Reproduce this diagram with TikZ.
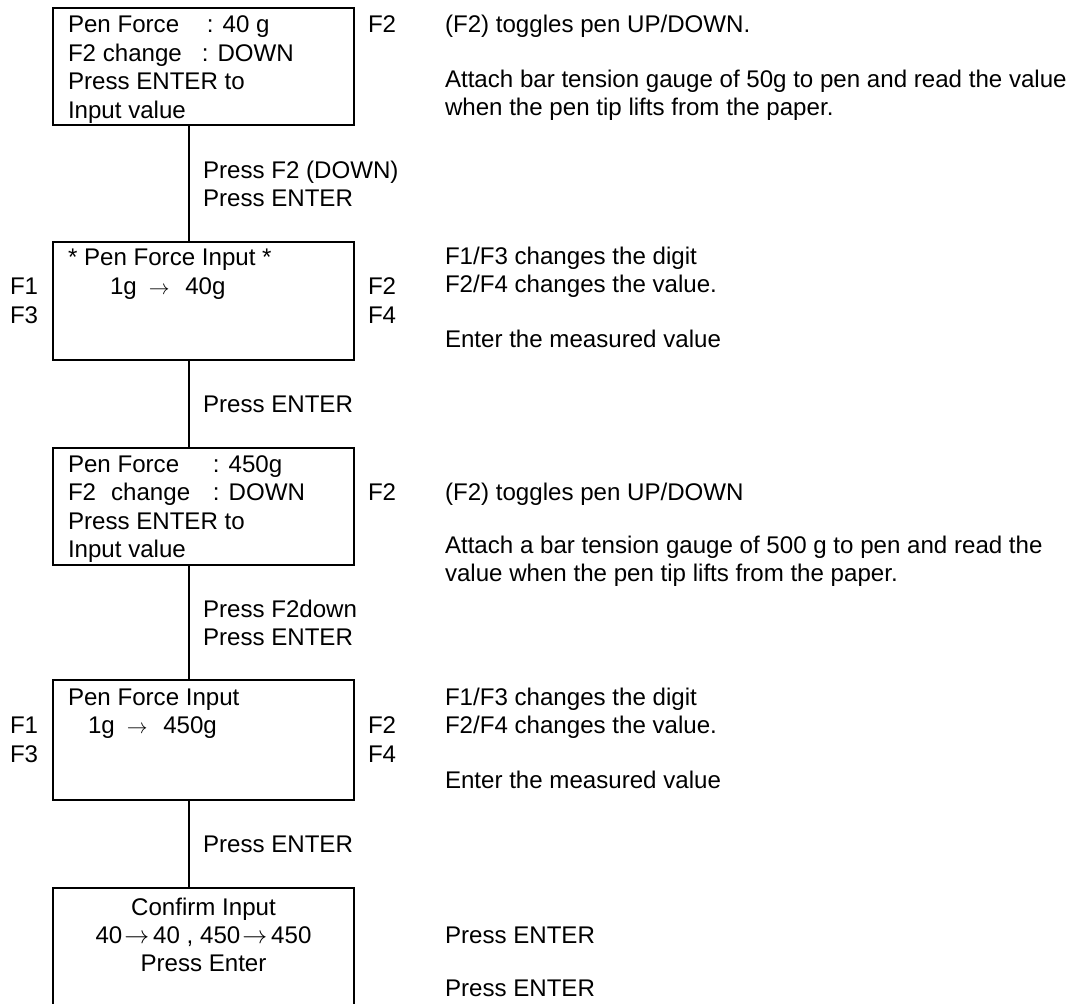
\documentclass[tikz,border=0pt]{standalone}
\usepackage{fontspec}
\setmainfont{Liberation Sans}
\begin{document}
\begin{tikzpicture}[x=1pt,y=-1pt,
  every node/.style={font=\fontsize{24.1}{28}\selectfont},
  txt/.style={anchor=base west,inner sep=0pt,outer sep=0pt},
  ctr/.style={anchor=base,inner sep=0pt,outer sep=0pt},
  screen/.style={draw,line width=1.8pt,rectangle,anchor=north west,minimum width=301pt,inner sep=0pt,outer sep=0pt},
  conn/.style={line width=1.8pt}]
\useasboundingbox (0,0) rectangle (1077,1004);
\newcommand{\sarr}{{\fontsize{21}{21}\selectfont$\rightarrow$}}
\newcommand{\barr}{\hspace{2pt}{\fontsize{28}{28}\selectfont$\rightarrow$}\hspace{4pt}}
\coordinate (ln) at (189,0);

% ---------- box 1
\node[screen,minimum height=117pt] (b1) at (53,8) {};
\node[txt] (b1l1) at (68,32) {\makebox[139pt][l]{Pen Force}: 40 g};
\node[txt] (b1l2) at (68,61) {\makebox[134pt][l]{F2 change}: DOWN};
\node[txt] (b1l3) at (68,89) {Press ENTER to};
\node[txt] (b1l4) at (68,118) {Input value};
\node[txt] (b1f2) at (368,32) {F2};
\node[txt] (r1a) at (445,32) {(F2) toggles pen UP/DOWN.};
\node[txt] (r1b) at (445,87) {Attach bar tension gauge of 50g to pen and read the value};
\node[txt] (r1c) at (445,115) {when the pen tip lifts from the paper.};

\node[txt] (p1a) at (203,178) {Press F2 (DOWN)};
\node[txt] (p1b) at (203,206) {Press ENTER};

% ---------- box 2
\node[screen,minimum height=118pt] (b2) at (53,242) {};
\node[txt] (b2l1) at (68,265) {* Pen Force Input *};
\node[txt] (b2l2) at (110,294) {1g\hspace{0.5em}\sarr\hspace{0.65em}40g};
\node[txt] (b2f1) at (10,294) {F1};
\node[txt] (b2f3) at (10,323) {F3};
\node[txt] (b2f2) at (368,294) {F2};
\node[txt] (b2f4) at (368,323) {F4};
\node[txt] (r2a) at (445,264) {F1/F3 changes the digit};
\node[txt] (r2b) at (445,292) {F2/F4 changes the value.};
\node[txt] (r2c) at (445,347) {Enter the measured value};

\node[txt] (p2) at (203,412) {Press ENTER};

% ---------- box 3
\node[screen,minimum height=117pt] (b3) at (53,448) {};
\node[txt] (b3l1) at (68,472) {\makebox[145pt][l]{Pen Force}: 450g};
\node[txt] (b3l2) at (68,500) {\makebox[145pt][l]{F2\hspace{15pt}change}: DOWN};
\node[txt] (b3l3) at (68,529) {Press ENTER to};
\node[txt] (b3l4) at (68,557) {Input value};
\node[txt] (b3f2) at (368,500) {F2};
\node[txt] (r3a) at (445,500) {(F2) toggles pen UP/DOWN};
\node[txt] (r3b) at (445,553) {Attach a bar tension gauge of 500 g to pen and read the};
\node[txt] (r3c) at (445,581) {value when the pen tip lifts from the paper.};

\node[txt] (p3a) at (203,617) {Press F2down};
\node[txt] (p3b) at (203,645) {Press ENTER};

% ---------- box 4
\node[screen,minimum height=120pt] (b4) at (53,680) {};
\node[txt] (b4l1) at (68,705) {Pen Force Input};
\node[txt] (b4l2) at (88,733) {1g\hspace{0.5em}\sarr\hspace{0.65em}450g};
\node[txt] (b4f1) at (10,733) {F1};
\node[txt] (b4f3) at (10,762) {F3};
\node[txt] (b4f2) at (368,733) {F2};
\node[txt] (b4f4) at (368,762) {F4};
\node[txt] (r4a) at (445,705) {F1/F3 changes the digit};
\node[txt] (r4b) at (445,733) {F2/F4 changes the value.};
\node[txt] (r4c) at (445,788) {Enter the measured value};

\node[txt] (p4) at (203,852) {Press ENTER};

% ---------- box 5 (open at the bottom edge of the picture)
\node[rectangle,anchor=north west,minimum width=301pt,minimum height=116pt,inner sep=0pt,outer sep=0pt] (b5) at (53,888) {};
\draw[line width=1.8pt] (b5.south west) -- (b5.north west) -- (b5.north east) -- (b5.south east);
\node[ctr] (b5l1) at (b5.north |- 0,915) {Confirm Input};
\node[ctr] (b5l2) at (b5.north |- 0,943) {40\barr40 , 450\barr450};
\node[ctr] (b5l3) at (b5.north |- 0,971) {Press Enter};
\node[txt] (r5a) at (445,943) {Press ENTER};
\node[txt] (r5b) at (445,996) {Press ENTER};

% ---------- connectors
\draw[conn] (b1.south -| ln) -- (b2.north -| ln);
\draw[conn] (b2.south -| ln) -- (b3.north -| ln);
\draw[conn] (b3.south -| ln) -- (b4.north -| ln);
\draw[conn] (b4.south -| ln) -- (b5.north -| ln);
\end{tikzpicture}
\end{document}
